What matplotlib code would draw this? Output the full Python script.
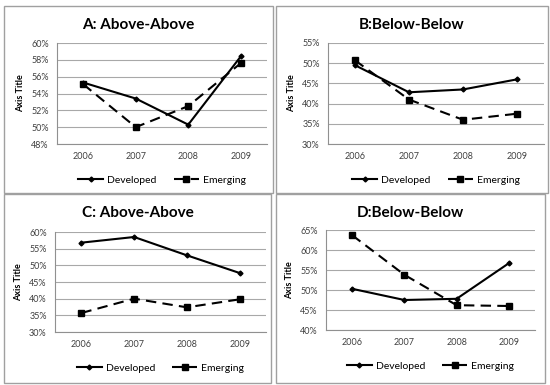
import matplotlib.pyplot as plt
from matplotlib.patches import Rectangle
from matplotlib.ticker import FuncFormatter

plt.rcParams['font.family'] = ['Lato', 'DejaVu Sans']

years = ['2006', '2007', '2008', '2009']

a_developed = [55.3, 53.4, 50.3, 58.4]
a_emerging = [55.1, 50.0, 52.5, 57.6]
b_developed = [49.5, 42.8, 43.5, 46.0]
b_emerging = [50.7, 41.0, 36.0, 37.5]
c_developed = [56.8, 58.5, 53.0, 47.7]
c_emerging = [35.7, 40.0, 37.4, 39.8]
d_developed = [50.3, 47.5, 47.8, 56.7]
d_emerging = [63.7, 53.8, 46.2, 46.0]

W, H = 550, 385
fig = plt.figure(figsize=(5.5, 3.85), dpi=100)


def px(x0, y0, x1, y1):
    # pixel box (top-left origin) -> figure fraction rect
    return [x0 / W, 1 - y1 / H, (x1 - x0) / W, (y1 - y0) / H]


def panel(box, plot_box, title, dev, emg, ylim, step):
    bx0, by0, bx1, by1 = box
    fig.patches.append(Rectangle((bx0 / W, 1 - by1 / H), (bx1 - bx0) / W, (by1 - by0) / H,
                                 transform=fig.transFigure, fill=False,
                                 edgecolor='#a0a0a0', linewidth=1.0))
    ax = fig.add_axes(px(*plot_box))
    x = range(len(years))
    ax.plot(x, dev, color='black', linewidth=1.5, marker='D', markersize=2.5,
            label='Developed')
    ax.plot(x, emg, color='black', linewidth=1.5, linestyle=(0, (5, 3)), marker='s',
            markersize=4, label='Emerging')
    ax.set_xlim(-0.5, 3.5)
    ax.set_ylim(*ylim)
    ax.set_yticks([ylim[0] + i * step for i in range(int(round((ylim[1] - ylim[0]) / step)) + 1)])
    ax.yaxis.set_major_formatter(FuncFormatter(lambda v, p: f'{v:.0f}%'))
    ax.set_xticks(list(x))
    ax.set_xticklabels(years)
    ax.tick_params(axis='both', labelsize=6.5, colors='#404040', length=0, pad=6)
    ax.grid(axis='y', color='#a8a8a8', linewidth=0.8)
    ax.set_axisbelow(True)
    for s in ['top', 'right']:
        ax.spines[s].set_visible(False)
    for s in ['left', 'bottom']:
        ax.spines[s].set_color('#909090')
    ax.set_ylabel('Axis Title', fontsize=6.5, fontweight='bold', labelpad=4)
    cx = (bx0 + bx1) / 2
    fig.text(cx / W, 1 - (by0 + 19) / H, title, ha='center', va='center',
             fontsize=11, fontweight='bold')
    ax.legend(loc='center', bbox_to_anchor=(0.5, -0.36), ncol=2, frameon=False,
              fontsize=7.5, handlelength=2.4, columnspacing=1.6, handletextpad=0.4)
    return ax


panel((4, 6, 273, 193), (57, 43, 267, 144), 'A: Above-Above',
      a_developed, a_emerging, (48, 60), 2)
panel((276, 6, 548, 193), (328, 43, 544, 144), 'B:Below-Below',
      b_developed, b_emerging, (30, 55), 5)
panel((4, 194, 271, 383), (55, 232, 266, 332), 'C: Above-Above',
      c_developed, c_emerging, (30, 60), 5)
panel((276, 194, 545, 383), (326, 230, 535, 330), 'D:Below-Below',
      d_developed, d_emerging, (40, 65), 5)

fig.savefig('out.png', dpi=100)
